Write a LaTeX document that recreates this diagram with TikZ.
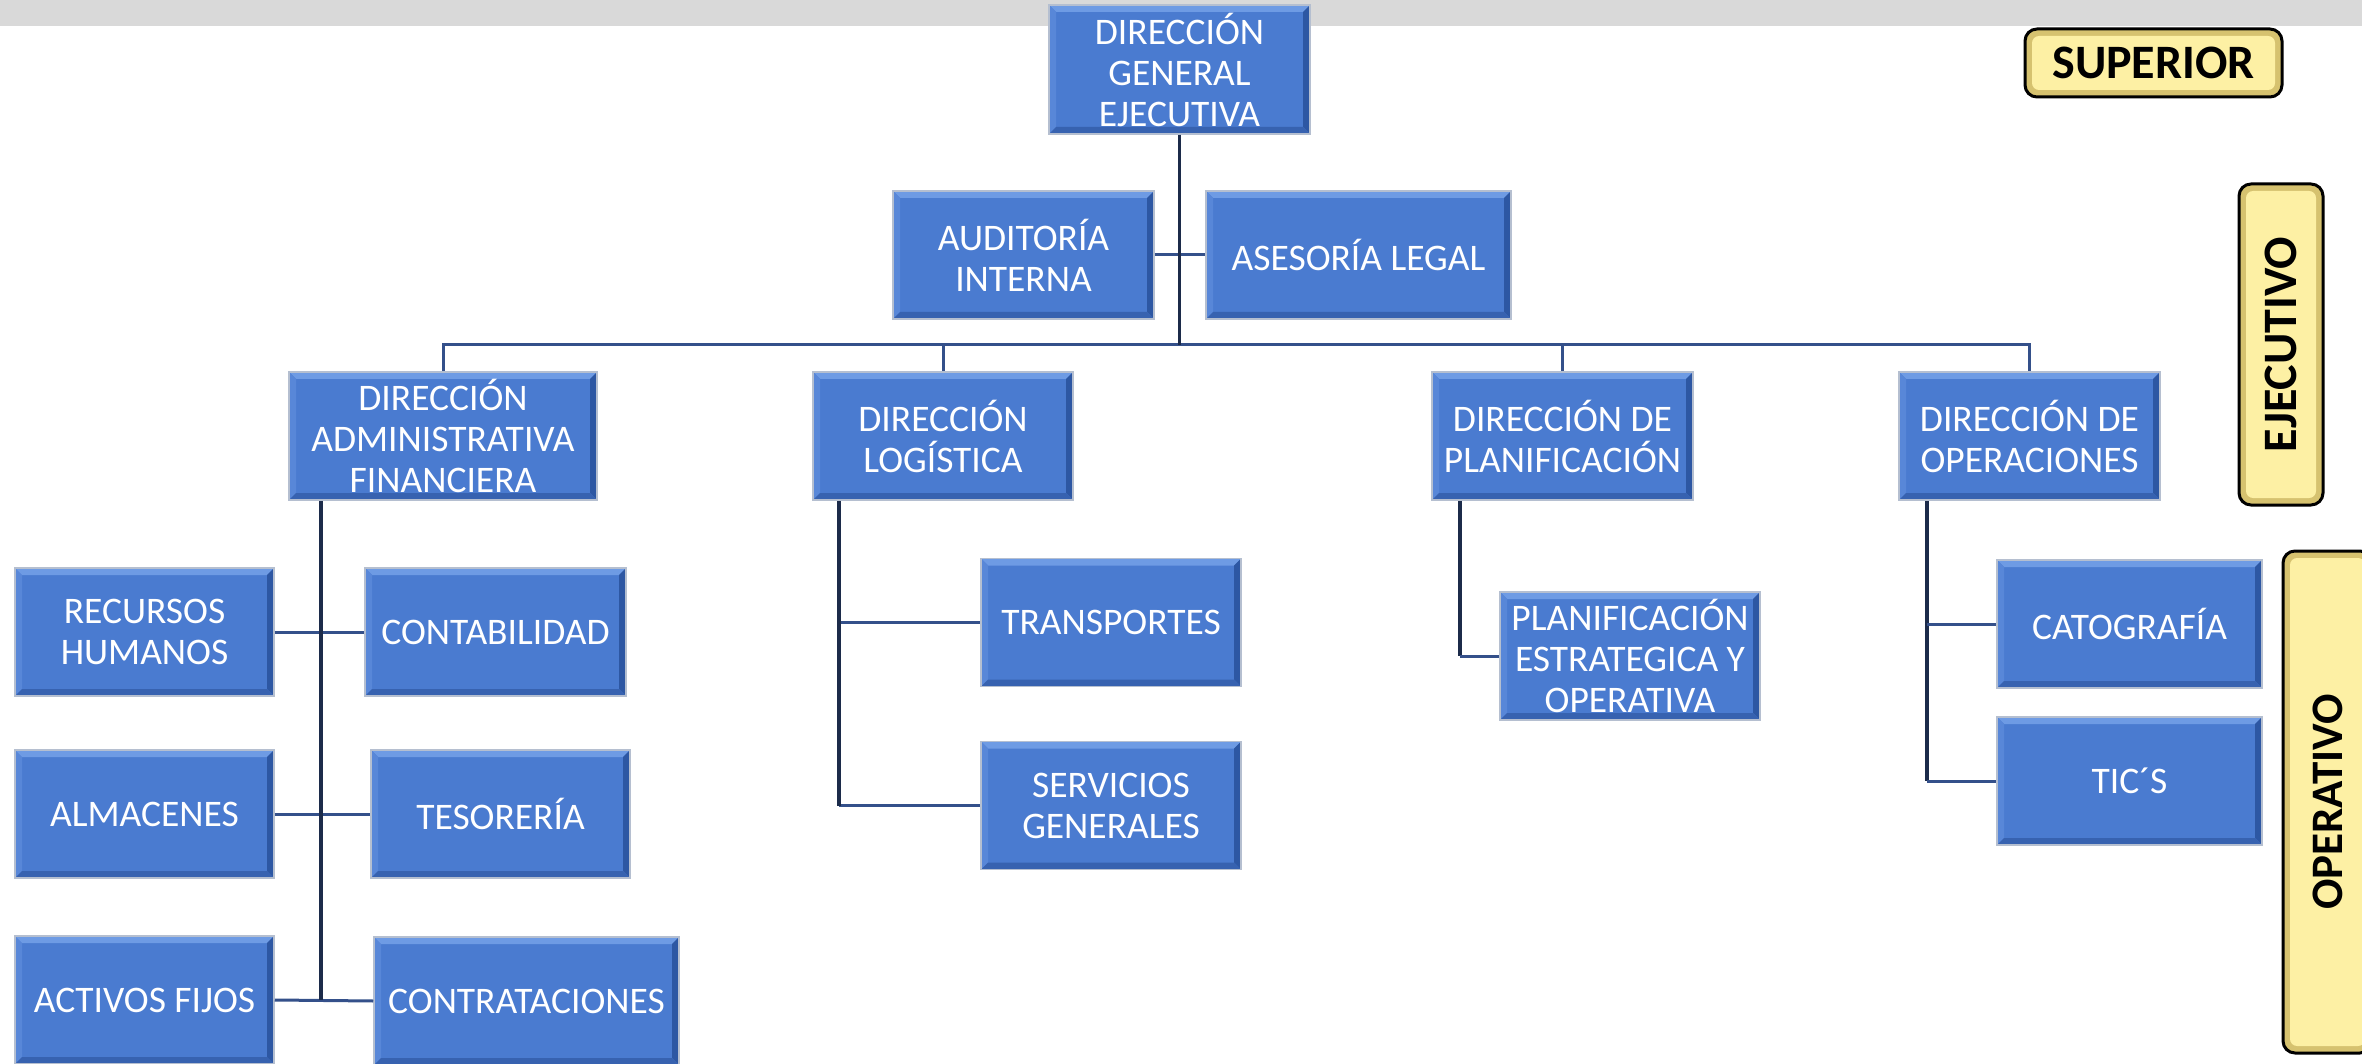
\documentclass[tikz,border=0pt]{standalone}
\usepackage{fontspec}
\setmainfont{Carlito}
\usetikzlibrary{calc}
\definecolor{boxblue}{HTML}{4A7BD0}
\definecolor{bvtop}{HTML}{6E9BE4}
\definecolor{bvleft}{HTML}{5887D8}
\definecolor{bvright}{HTML}{2D57A3}
\definecolor{bvbot}{HTML}{3762B0}
\definecolor{boxedge}{HTML}{B5BFD0}
\definecolor{lblfill}{HTML}{FDF0A4}
\definecolor{lbledge}{HTML}{D6C26F}
\definecolor{darkline}{HTML}{1C2B4A}
\definecolor{midline}{HTML}{34508A}
\definecolor{greybar}{HTML}{D9D9D9}
\tikzset{
  bevel/.style={path picture={
    \path (path picture bounding box.north west) coordinate (pnw)
          (path picture bounding box.north east) coordinate (pne)
          (path picture bounding box.south west) coordinate (psw)
          (path picture bounding box.south east) coordinate (pse);
    \fill[bvtop] (pnw) -- (pne) -- ([shift={(-#1,-#1)}]pne) -- ([shift={(#1,-#1)}]pnw) -- cycle;
    \fill[bvleft] (pnw) -- ([shift={(#1,-#1)}]pnw) -- ([shift={(#1,#1)}]psw) -- (psw) -- cycle;
    \fill[bvright] (pne) -- (pse) -- ([shift={(-#1,#1)}]pse) -- ([shift={(-#1,-#1)}]pne) -- cycle;
    \fill[bvbot] (psw) -- (pse) -- ([shift={(-#1,#1)}]pse) -- ([shift={(#1,#1)}]psw) -- cycle;
  }},
  lblbevel/.style={path picture={
    \path (path picture bounding box.north west) coordinate (lnw)
          (path picture bounding box.north east) coordinate (lne)
          (path picture bounding box.south west) coordinate (lsw)
          (path picture bounding box.south east) coordinate (lse);
    \fill[lblfill, rounded corners=7pt]
      ($(lnw)!#1!(lne) + (lnw)!#1!(lsw) - (lnw)$) --
      ($(lne)!#1!(lnw) + (lne)!#1!(lse) - (lne)$) --
      ($(lse)!#1!(lsw) + (lse)!#1!(lne) - (lse)$) --
      ($(lsw)!#1!(lse) + (lsw)!#1!(lnw) - (lsw)$) -- cycle;
  }},
  bluebox/.style={draw=boxedge, line width=1.5pt, fill=boxblue, bevel=7pt,
    text=white, align=center, inner sep=0pt, minimum width=260pt, minimum height=128pt,
    font=\fontsize{37.5}{41}\selectfont},
  lvl/.style={draw=black, line width=3pt, fill=lbledge, lblbevel=7pt, rounded corners=12pt,
    inner sep=0pt, font=\fontsize{48}{52}\selectfont\bfseries, text=black},
  trunk/.style={draw=darkline, line width=3.5pt},
  conn/.style={draw=midline, line width=3pt},
}
\begin{document}
\begin{tikzpicture}[x=1pt,y=-1pt]
\useasboundingbox (0,0) rectangle (2362,1064);
\fill[white] (0,0) rectangle (2362,1064);
\fill[greybar] (0,0) rectangle (2362,26);

% level labels
\node[lvl, minimum width=257pt, minimum height=68pt] (sup) at (2153.5,63) {SUPERIOR};
\node[lvl, rotate=90, minimum width=321pt, minimum height=84pt] (eje) at (2281,344.5) {EJECUTIVO};
\node[lvl, rotate=90, minimum width=502pt, minimum height=89pt, font=\fontsize{45}{50}\selectfont\bfseries] (ope) at (2327.5,802) {OPERATIVO};

\coordinate (bus) at (0,345);
\coordinate (dafx) at (321,0);
\coordinate (dlx) at (839,0);
\coordinate (dpx) at (1460,0);
\coordinate (dox) at (1927,0);

% nodes
\node[bluebox, minimum width=261pt, minimum height=129pt] (dge) at (1179.5,69.5) {DIRECCIÓN\\GENERAL\\EJECUTIVA};
\node[bluebox, minimum width=261pt] (aud) at (1023.5,255) {AUDITORÍA\\INTERNA};
\node[bluebox, minimum width=305pt] (ase) at (1358.5,255) {ASESORÍA LEGAL};

\node[bluebox, minimum width=308pt] (daf) at (443,436) {DIRECCIÓN\\ADMINISTRATIVA\\FINANCIERA};
\node[bluebox] (dl) at (943,436) {DIRECCIÓN\\LOGÍSTICA};
\node[bluebox, minimum width=261pt] (dp) at (1562.5,436) {DIRECCIÓN DE\\PLANIFICACIÓN};
\node[bluebox, minimum width=261pt] (do) at (2029.5,436) {DIRECCIÓN DE\\OPERACIONES};

\node[bluebox, minimum width=259pt] (rh) at (144.5,632) {RECURSOS\\HUMANOS};
\node[bluebox, minimum width=261pt] (cont) at (495.5,632) {CONTABILIDAD};
\node[bluebox, minimum width=259pt] (alm) at (144.5,814) {ALMACENES};
\node[bluebox, minimum width=259pt] (tes) at (500.5,814) {TESORERÍA};
\node[bluebox, minimum width=259pt] (af) at (144.5,1000) {ACTIVOS FIJOS};
\node[bluebox, minimum width=305pt] (contr) at (526.5,1001) {CONTRATACIONES};

\node[bluebox] (tra) at (1111,622.5) {TRANSPORTES};
\node[bluebox] (ser) at (1111,805.5) {SERVICIOS\\GENERALES};

\node[bluebox] (plan) at (1630,656) {PLANIFICACIÓN\\ESTRATEGICA Y\\OPERATIVA};

\node[bluebox, minimum width=265pt] (cat) at (2129.5,624) {CATOGRAFÍA};
\node[bluebox, minimum width=265pt] (tic) at (2129.5,781) {TIC´S};

% connectors
\draw[conn] (aud.east) -- (ase.west);
\draw[conn] (daf.north) -- (daf.north |- bus) -- (do.north |- bus) -- (do.north);
\draw[conn] (dl.north) -- (dl.north |- bus);
\draw[conn] (dp.north) -- (dp.north |- bus);
\draw[trunk] (dge.south) -- (dge.south |- bus);

\draw[conn] (rh.east) -- (cont.west);
\draw[conn] (alm.east) -- (tes.west);
\draw[conn] (af.east) -- (contr.west);
\draw[trunk] (dafx |- daf.south) -- (dafx |- af.east);

\draw[conn] (dlx |- tra.west) -- (tra.west);
\draw[conn] (dlx |- ser.west) -- (ser.west);
\draw[trunk] (dlx |- dl.south) -- (dlx |- ser.west);

\draw[trunk] (dpx |- dp.south) -- (dpx |- plan.west);
\draw[conn] (dpx |- plan.west) -- (plan.west);

\draw[trunk] (dox |- do.south) -- (dox |- tic.west);
\draw[conn] (dox |- cat.west) -- (cat.west);
\draw[conn] (dox |- tic.west) -- (tic.west);
\end{tikzpicture}
\end{document}
